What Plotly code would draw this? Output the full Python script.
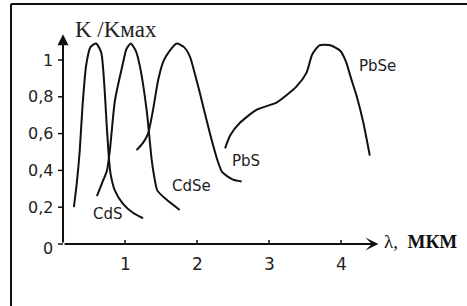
import plotly.graph_objects as go

# ---- data ----
cds_x = [0.29, 0.33, 0.37, 0.41, 0.46, 0.52, 0.60, 0.67, 0.71, 0.75, 0.78, 0.80, 0.86, 0.97, 1.11, 1.25]
cds_y = [0.20, 0.33, 0.50, 0.75, 0.97, 1.07, 1.09, 1.04, 0.88, 0.62, 0.45, 0.38, 0.29, 0.22, 0.17, 0.14]

cdse_x = [0.61, 0.68, 0.75, 0.79, 0.86, 0.97, 1.02, 1.08, 1.15, 1.21, 1.30, 1.37, 1.40, 1.45, 1.58, 1.76]
cdse_y = [0.26, 0.33, 0.40, 0.51, 0.78, 0.98, 1.06, 1.09, 1.05, 0.96, 0.73, 0.46, 0.38, 0.29, 0.24, 0.185]

pbs_x = [1.16, 1.25, 1.32, 1.39, 1.46, 1.53, 1.62, 1.72, 1.82, 1.90, 2.04, 2.18, 2.28, 2.35, 2.50, 2.62]
pbs_y = [0.51, 0.55, 0.60, 0.73, 0.89, 0.99, 1.05, 1.09, 1.07, 1.02, 0.82, 0.60, 0.46, 0.39, 0.35, 0.34]

pbse_x = [2.39, 2.46, 2.60, 2.83, 3.11, 3.38, 3.52, 3.60, 3.70, 3.85, 3.99, 4.07, 4.14, 4.22, 4.31, 4.40]
pbse_y = [0.52, 0.59, 0.66, 0.73, 0.77, 0.855, 0.93, 1.03, 1.08, 1.08, 1.05, 0.99, 0.90, 0.80, 0.66, 0.48]

y_tick_vals = [0, 0.2, 0.4, 0.6, 0.8, 1.0]
y_tick_text = ["0", "0,2", "0,4", "0,6", "0,8", "1"]
x_tick_vals = [1, 2, 3, 4]
x_tick_text = ["1", "2", "3", "4"]

curve_names = ["CdS", "CdSe", "PbS", "PbSe"]
label_x = [0.77, 1.92, 2.68, 4.50]
label_y = [0.163, 0.315, 0.45, 0.965]

y_title = "K /Kмах"
x_title = "λ,  <b>МКМ</b>"

# ---- figure ----
W, H = 467, 306
x0_axis = 0.139
fig = go.Figure()
ink = "#111111"
for xs, ys in [(cds_x, cds_y), (cdse_x, cdse_y), (pbs_x, pbs_y), (pbse_x, pbse_y)]:
    fig.add_trace(go.Scatter(x=xs, y=ys, mode="lines",
                             line=dict(color=ink, width=2, shape="spline", smoothing=0.6),
                             hoverinfo="skip", showlegend=False))

ann = []
# axes with arrows
ann.append(dict(x=x0_axis, y=1.14, ax=x0_axis, ay=0, xref="x", yref="y", axref="x", ayref="y",
                showarrow=True, arrowhead=2, arrowsize=1.1, arrowwidth=2, arrowcolor=ink, text=""))
ann.append(dict(x=4.52, y=0, ax=x0_axis, ay=0, xref="x", yref="y", axref="x", ayref="y",
                showarrow=True, arrowhead=3, arrowsize=1.1, arrowwidth=2, arrowcolor=ink, text=""))

shapes = []
for v, t in zip(y_tick_vals, y_tick_text):
    shapes.append(dict(type="line", xref="x", yref="y", x0=x0_axis - 0.07, x1=x0_axis, y0=v, y1=v,
                       line=dict(color=ink, width=1.5)))
    ann.append(dict(x=0.03, y=v, xref="x", yref="y", text=t, showarrow=False,
                    xanchor="right", yanchor="middle", yshift=(-4 if v == 0 else 0),
                    font=dict(family="DejaVu Sans", size=16, color="#222")))
for v, t in zip(x_tick_vals, x_tick_text):
    shapes.append(dict(type="line", xref="x", yref="y", x0=v, x1=v, y0=0, y1=0.022,
                       line=dict(color=ink, width=1.5)))
    ann.append(dict(x=v, y=-0.109, xref="x", yref="y", text=t, showarrow=False,
                    xanchor="center", yanchor="middle",
                    font=dict(family="DejaVu Sans", size=17, color="#222")))

for n, lx, ly in zip(curve_names, label_x, label_y):
    ann.append(dict(x=lx, y=ly, xref="x", yref="y", text=n, showarrow=False,
                    xanchor="center", yanchor="middle",
                    font=dict(family="DejaVu Sans", size=15, color="#222")))

ann.append(dict(x=0.88, y=1.168, xref="x", yref="y", text=y_title, showarrow=False,
                xanchor="center", yanchor="middle",
                font=dict(family="Liberation Serif", size=23, color="#222")))
ann.append(dict(x=4.57, y=0.012, xref="x", yref="y", text=x_title, showarrow=False,
                xanchor="left", yanchor="middle",
                font=dict(family="Liberation Serif", size=19, color="#111")))

# frame (left and top border only visible)
shapes.append(dict(type="line", xref="paper", yref="paper", x0=11 / W, x1=11 / W,
                   y0=0, y1=1 - 4 / H, line=dict(color=ink, width=2)))
shapes.append(dict(type="line", xref="paper", yref="paper", x0=11 / W, x1=1,
                   y0=1 - 4 / H, y1=1 - 4 / H, line=dict(color=ink, width=2)))

fig.update_layout(
    width=W, height=H, margin=dict(l=0, r=0, t=0, b=0),
    paper_bgcolor="white", plot_bgcolor="white",
    xaxis=dict(range=[-53 / 72, (W - 53) / 72], visible=False, fixedrange=True),
    yaxis=dict(range=[(244 - H) / 184, 244 / 184], visible=False, fixedrange=True),
    annotations=ann, shapes=shapes,
)
fig.write_html("out.html", config={"displayModeBar": False},
               post_script="document.body.style.margin='0';document.body.style.overflow='hidden';")
